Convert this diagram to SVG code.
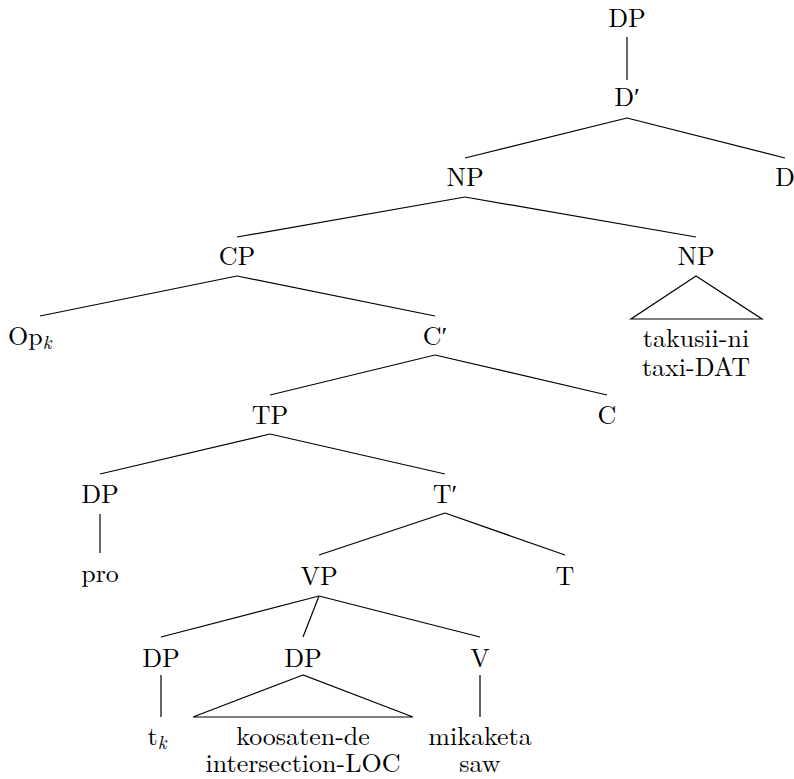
<svg xmlns="http://www.w3.org/2000/svg" width="794" height="779" viewBox="0 0 794 779">
<style>
text{font-size:26px;fill:#000;text-anchor:middle}
.sub{font-style:italic;font-size:19px}
line,polygon{stroke:#000;stroke-width:1.2;fill:none}
</style>
<rect width="794" height="779" fill="#fff"/>
<g id="connectors">
<line x1="627" y1="37" x2="627" y2="80"/>
<line x1="627" y1="118" x2="465" y2="158"/>
<line x1="627" y1="118" x2="785" y2="158"/>
<line x1="465" y1="197" x2="237" y2="237"/>
<line x1="465" y1="197" x2="696" y2="237"/>
<line x1="237" y1="276" x2="40" y2="316"/>
<line x1="237" y1="276" x2="435" y2="316"/>
<polygon points="696,276 631,319 762,319"/>
<line x1="435" y1="355" x2="270" y2="395"/>
<line x1="435" y1="355" x2="607" y2="395"/>
<line x1="270" y1="434" x2="100" y2="474"/>
<line x1="270" y1="434" x2="445" y2="474"/>
<line x1="100" y1="514" x2="100" y2="553"/>
<line x1="445" y1="513" x2="319" y2="555"/>
<line x1="445" y1="513" x2="565" y2="555"/>
<line x1="319" y1="596" x2="161" y2="637"/>
<line x1="319" y1="596" x2="303" y2="637"/>
<line x1="319" y1="596" x2="480" y2="637"/>
<line x1="161" y1="675" x2="161" y2="717"/>
<polygon points="303,675 193,717 413,717"/>
<line x1="480" y1="675" x2="480" y2="717"/>
</g>
<g id="n-dp-root"><text font-family="Latin Modern Roman, Liberation Serif, serif" x="627" y="27">DP</text></g>
<g id="n-dbar"><text font-family="Latin Modern Roman, Liberation Serif, serif" x="627" y="106">D′</text></g>
<g id="n-np1"><text font-family="Latin Modern Roman, Liberation Serif, serif" x="465" y="186">NP</text></g>
<g id="n-d"><text font-family="Latin Modern Roman, Liberation Serif, serif" x="785" y="186">D</text></g>
<g id="n-cp"><text font-family="Latin Modern Roman, Liberation Serif, serif" x="237" y="265">CP</text></g>
<g id="n-np2"><text font-family="Latin Modern Roman, Liberation Serif, serif" x="696" y="265">NP</text></g>
<g id="n-np2-leaf"><text font-family="Latin Modern Roman, Liberation Serif, serif" x="696" y="347">takusii-ni</text><text font-family="Latin Modern Roman, Liberation Serif, serif" x="696" y="376">taxi-DAT</text></g>
<g id="n-op"><text font-family="Latin Modern Roman, Liberation Serif, serif" x="8" y="345" style="text-anchor:start">Op<tspan class="sub" dy="4">k</tspan></text></g>
<g id="n-cbar"><text font-family="Latin Modern Roman, Liberation Serif, serif" x="435" y="345">C′</text></g>
<g id="n-tp"><text font-family="Latin Modern Roman, Liberation Serif, serif" x="270" y="424">TP</text></g>
<g id="n-c"><text font-family="Latin Modern Roman, Liberation Serif, serif" x="607" y="424">C</text></g>
<g id="n-dp-spec"><text font-family="Latin Modern Roman, Liberation Serif, serif" x="100" y="503">DP</text></g>
<g id="n-tbar"><text font-family="Latin Modern Roman, Liberation Serif, serif" x="445" y="503">T′</text></g>
<g id="n-pro"><text font-family="Latin Modern Roman, Liberation Serif, serif" x="100" y="582">pro</text></g>
<g id="n-vp"><text font-family="Latin Modern Roman, Liberation Serif, serif" x="319" y="585">VP</text></g>
<g id="n-t"><text font-family="Latin Modern Roman, Liberation Serif, serif" x="565" y="585">T</text></g>
<g id="n-dp1"><text font-family="Latin Modern Roman, Liberation Serif, serif" x="161" y="667">DP</text></g>
<g id="n-dp2"><text font-family="Latin Modern Roman, Liberation Serif, serif" x="303" y="667">DP</text></g>
<g id="n-v"><text font-family="Latin Modern Roman, Liberation Serif, serif" x="480" y="667">V</text></g>
<g id="n-tk"><text font-family="Latin Modern Roman, Liberation Serif, serif" x="157" y="745">t<tspan class="sub" dy="4">k</tspan></text></g>
<g id="n-dp2-leaf"><text font-family="Latin Modern Roman, Liberation Serif, serif" x="303" y="745">koosaten-de</text><text font-family="Latin Modern Roman, Liberation Serif, serif" x="303" y="772">intersection-LOC</text></g>
<g id="n-v-leaf"><text font-family="Latin Modern Roman, Liberation Serif, serif" x="480" y="745">mikaketa</text><text font-family="Latin Modern Roman, Liberation Serif, serif" x="480" y="772">saw</text></g>
</svg>
